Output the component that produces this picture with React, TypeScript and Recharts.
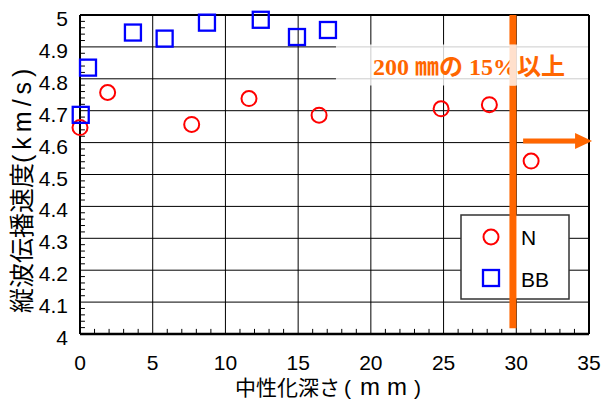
import {
  ScatterChart,
  Scatter,
  XAxis,
  YAxis,
  CartesianGrid,
  ReferenceLine,
  ReferenceArea,
  Customized,
} from 'recharts'

// 中性化深さ (mm) と縦波伝播速度 (km/s)
const nDepth = [0, 1.9, 7.68, 11.62, 16.44, 24.83, 28.15, 31.02]
const nVelocity = [4.647, 4.757, 4.657, 4.738, 4.686, 4.706, 4.719, 4.542]
const bbDepth = [0.05, 0.55, 3.64, 5.82, 8.73, 12.43, 14.92, 17.05]
const bbVelocity = [4.687, 4.835, 4.945, 4.926, 4.976, 4.985, 4.931, 4.953]

const seriesNames = ['N', 'BB']
const xTicks = [0, 5, 10, 15, 20, 25, 30, 35]
const yTicks = [4, 4.1, 4.2, 4.3, 4.4, 4.5, 4.6, 4.7, 4.8, 4.9, 5]

// 200mm の 15% ライン
const limitDepth = 29.77
const arrowVelocity = 4.605
const noteText = '200 ㎜の 15%以上'
const noteBand = [4.779, 4.9075]

const xTitleMain = '中性化深さ'
const xTitleUnit = 'mm'
const yTitleMain = '縦波伝播速度'
const yTitleUnit = '(km/s)'

const ORANGE = '#ff6600'
const ORANGE_PALE = '#ffe0cc'
const SANS = "'Liberation Sans', Arial, 'Noto Sans CJK JP', sans-serif"
const CJK = "'Noto Sans CJK JP', sans-serif"
const SERIF = "'Liberation Serif', 'Times New Roman', 'Noto Sans CJK JP', serif"

const nData = nDepth.map((x, i) => ({ x, y: nVelocity[i] }))
const bbData = bbDepth.map((x, i) => ({ x, y: bbVelocity[i] }))

// minor ticks (1 mm / 0.02 km/s)
const xMinor = Array.from({ length: 35 }, (_, i) => i + 1).filter(v => v % 5 !== 0)
const yMinor = Array.from({ length: 49 }, (_, i) => Math.round((4.02 + i * 0.02) * 100) / 100)
  .filter(v => Math.round(v * 100) % 10 !== 0)

const CircleMark = (props: any) => (
  <circle cx={props.cx} cy={props.cy} r={7.5} fill="none" stroke="#ff0000" strokeWidth={2} />
)

const SquareMark = (props: any) => (
  <rect x={props.cx - 8} y={props.cy - 8} width={16} height={16} fill="none" stroke="#0000ff" strokeWidth={2.3} />
)

const XTick = ({ x, y, payload }: any) => (
  <text x={x} y={y} dy={28} textAnchor="middle" fontSize={21} fontFamily={SANS} fill="#000">
    {payload.value}
  </text>
)

const YTick = ({ x, y, payload }: any) => (
  <text x={x} y={y} dx={-4} dy={11} textAnchor="end" fontSize={21} fontFamily={SANS} fill="#000">
    {String(payload.value)}
  </text>
)

const ArrowShape = (p: any) => {
  const { x1, y1, x2, y2 } = p
  return (
    <g>
      <line x1={x1} y1={y1} x2={x2 - 14} y2={y2} stroke={ORANGE} strokeWidth={5} />
      <polygon points={`${x2},${y2} ${x2 - 17},${y2 - 8} ${x2 - 17},${y2 + 8}`} fill={ORANGE} />
    </g>
  )
}

const LegendBox = () => (
  <g>
    <rect x={461} y={215} width={108} height={84} fill="#fff" stroke="#333" strokeWidth={1.5} />
    <CircleMark cx={491} cy={237} />
    <text x={521} y={245} fontSize={21} fontFamily={SANS} fill="#000">{seriesNames[0]}</text>
    <SquareMark cx={491} cy={278} />
    <text x={521} y={287} fontSize={21} fontFamily={SANS} fill="#000">{seriesNames[1]}</text>
  </g>
)

const Titles = () => (
  <g>
    <text x={235} y={395} textAnchor="start" fontSize={21} fontFamily={SANS} fill="#000">
      <tspan>{xTitleMain}</tspan>
      <tspan dx={4} letterSpacing={9}>(</tspan>
      <tspan fontSize={24} letterSpacing={7}>{xTitleUnit}</tspan>
      <tspan>)</tspan>
    </text>
    <text
      x={31}
      y={313}
      transform="rotate(-90, 31, 313)"
      textAnchor="start"
      fontSize={25}
      fill="#000"
    >
      <tspan fontFamily={CJK}>{yTitleMain}</tspan>
      <tspan fontFamily={SANS} letterSpacing={5}>{yTitleUnit}</tspan>
    </text>
  </g>
)

export default function App() {
  return (
    <div style={{ position: 'absolute', left: 0, top: 0, width: 604, height: 405, background: '#fff' }}>
      <ScatterChart width={604} height={405} margin={{ top: 15, right: 15, bottom: 0, left: 0 }}>
        <CartesianGrid stroke="#000" strokeWidth={1} />
        <XAxis
          type="number"
          dataKey="x"
          domain={[0, 35]}
          ticks={xTicks}
          height={71}
          tick={<XTick />}
          tickLine={false}
          axisLine={{ stroke: '#000', strokeWidth: 2.5 }}
        />
        <YAxis
          type="number"
          dataKey="y"
          domain={[4, 5]}
          ticks={yTicks}
          width={80}
          tick={<YTick />}
          tickLine={false}
          axisLine={{ stroke: '#000', strokeWidth: 2 }}
        />
        <ReferenceLine y={5} stroke="#000" strokeWidth={2} />
        <ReferenceLine x={35} stroke="#000" strokeWidth={2} />
        {xMinor.map(v => (
          <ReferenceLine key={`xm${v}`} segment={[{ x: v, y: 4 }, { x: v, y: 4.016 }]} stroke="#000" strokeWidth={1} />
        ))}
        {yMinor.map(v => (
          <ReferenceLine key={`ym${v}`} segment={[{ x: 0, y: v }, { x: 0.34, y: v }]} stroke="#000" strokeWidth={1} />
        ))}
        <Scatter name={seriesNames[0]} data={nData} shape={<CircleMark />} isAnimationActive={false} />
        <Scatter name={seriesNames[1]} data={bbData} shape={<SquareMark />} isAnimationActive={false} />
        <Customized component={LegendBox} />
        <ReferenceArea
          x1={17.6}
          x2={35.1}
          y1={noteBand[0]}
          y2={noteBand[1]}
          fill="#fff"
          fillOpacity={0.8}
          stroke="none"
          ifOverflow="visible"
          label={() => (
            <text x={373} y={75} fontSize={24} fontWeight="bold" fontFamily={SERIF} fill={ORANGE}>
              {noteText}
            </text>
          )}
        />
        {/* orange limit line, faded where the note box covers it */}
        <ReferenceLine
          segment={[{ x: limitDepth, y: 4.018 }, { x: limitDepth, y: noteBand[0] }]}
          stroke={ORANGE}
          strokeWidth={7}
          ifOverflow="visible"
        />
        <ReferenceLine
          segment={[{ x: limitDepth, y: noteBand[0] }, { x: limitDepth, y: noteBand[1] }]}
          stroke={ORANGE_PALE}
          strokeWidth={7}
          ifOverflow="visible"
        />
        <ReferenceLine
          segment={[{ x: limitDepth, y: noteBand[1] }, { x: limitDepth, y: 5 }]}
          stroke={ORANGE}
          strokeWidth={7}
          ifOverflow="visible"
        />
        <ReferenceLine
          segment={[{ x: 30.47, y: arrowVelocity }, { x: 35.21, y: arrowVelocity }]}
          shape={ArrowShape}
          ifOverflow="visible"
        />
        <Customized component={Titles} />
      </ScatterChart>
    </div>
  )
}
